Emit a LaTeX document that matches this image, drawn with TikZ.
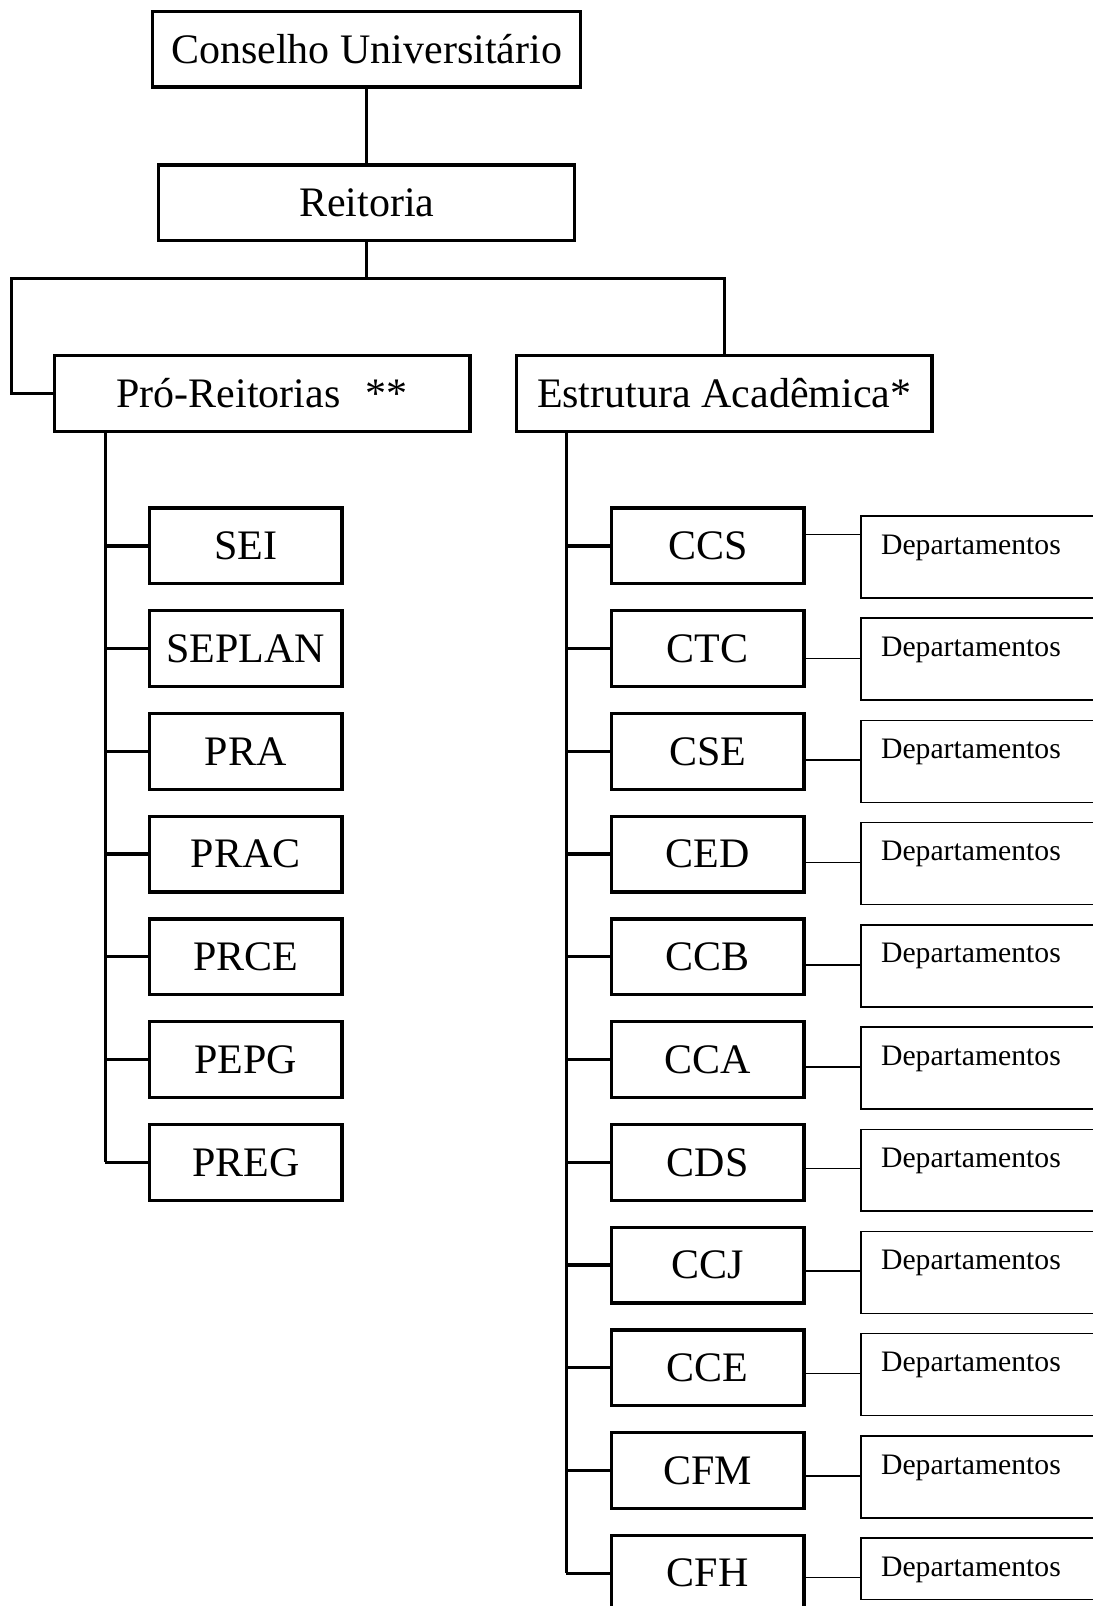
\documentclass[tikz,border=0pt]{standalone}
\usepackage{fontspec}
\setmainfont{Liberation Serif}
\begin{document}
\begin{tikzpicture}[x=1pt,y=-1pt,
  box/.style={draw, line width=3.2pt, inner sep=0pt, minimum height=74pt, font=\fontsize{41}{48}\selectfont},
  bigbox/.style={box, minimum width=406pt},
  smallbox/.style={box, minimum width=188pt},
  deptbox/.style={draw, line width=1.5pt, inner sep=0pt, anchor=north west, minimum width=240pt},
  depttext/.style={anchor=base west, inner sep=0pt, font=\fontsize{29}{34}\selectfont},
  tree/.style={line width=3.2pt},
  thinline/.style={line width=1.5pt}]
\useasboundingbox (0,0) rectangle (1067,1568);
\fill[white] (0,0) rectangle (1067,1568);

\node[box, minimum width=418pt] (cu) at (358,48) {Conselho Universitário};
\node[bigbox] (rei) at (358,198) {Reitoria};
\node[bigbox] (pro) at (256,384) {Pró-Reitorias\hspace{0.6em}**};
\node[bigbox] (est) at (707,384) {Estrutura Acadêmica*};

\coordinate (jl) at (11,272);
\coordinate (pl) at (103,0);
\coordinate (el) at (553,0);

\draw[tree] (cu) -- (rei);
\draw[tree] (rei.south) -- (rei.south |- jl);
\draw[tree] (pro.west) -| (jl) -- (est.north |- jl) -- (est.north);

% left column
\foreach \lab [count=\i from 0, evaluate=\i as \yc using 533+100.3*\i] in {SEI,SEPLAN,PRA,PRAC,PRCE,PEPG,PREG} {
  \node[smallbox] (l\i) at (240,\yc) {\lab};
  \draw[tree] (l\i.west -| pl) -- (l\i.west);
}
\draw[tree] (pro.south -| pl) -- (l6.west -| pl);

% right column
\foreach \lab/\cy [count=\i from 0, evaluate=\i as \yc using 533+100.3*\i, evaluate=\i as \dt using 503+99.8*\i] in
  {CCS/522,CTC/643,CSE/742,CED/842,CCB/942,CCA/1042,CDS/1141,CCJ/1241,CCE/1341,CFM/1441,CFH/1540} {
  \node[smallbox] (r\i) at (691,\yc) {\lab};
  \draw[tree] (r\i.west -| el) -- (r\i.west);
  \ifnum\i=10
    \node[deptbox, minimum height=60pt] (d\i) at (840,\dt) {};
  \else
    \node[deptbox, minimum height=80pt] (d\i) at (840,\dt) {};
  \fi
  \node[depttext] (t\i) at (860,\dt+38) {Departamentos};
  \draw[thinline] (r\i.east |- 0,\cy) -- (d\i.west |- 0,\cy);
}
\draw[tree] (est.south -| el) -- (r10.west -| el);
\end{tikzpicture}
\end{document}
